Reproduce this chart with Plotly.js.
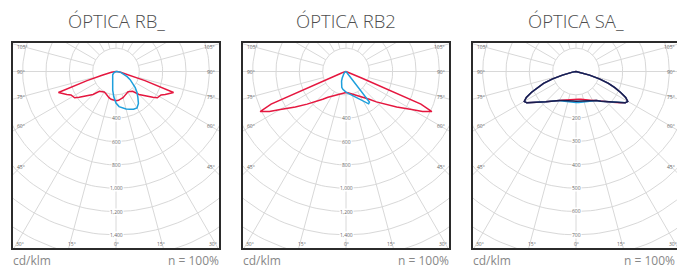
<!DOCTYPE html>
<html><head><meta charset="utf-8">
<script src="https://cdn.plot.ly/plotly-3.0.1.min.js"></script>
<style>html,body{margin:0;padding:0;background:#fff}#chart{width:677px;height:270px}</style>
</head><body><div id="chart"></div>
<script>
// ---------- DATA ----------
const panelTitles = ['ÓPTICA RB_', 'ÓPTICA RB2', 'ÓPTICA SA_'];
const unitLabel = 'cd/klm';
const effLabel = 'n = 100%';
const sideAngleLabels = ['105°', '90°', '75°', '60°', '45°'];
const bottomAngleLabels = ['30°', '15°', '0°', '15°', '30°'];
const rbIntensityLabels = [400, 600, 800, 1000, 1200, 1400];
const saIntensityLabels = [200, 300, 400, 500, 600, 700];

// gamma angles in degrees (0 = nadir, negative = left half)
const rbRedAngles = [-90,-85,-80,-75,-72.5,-70,-67.5,-65,-62.5,-60,-57.5,-55,-50,-45,-40,-35,-30,-25,-20,-15,-10,-5,0,5,10,15,20,25,30,35,40,45,50,55,57.5,60,62.5,65,67.5,70,72.5,75,80,85,90];
const rbRedValues = [0,8,40,130,260,525,495,465,435,428,420,385,325,278,222,208,203,208,220,232,242,248,250,248,242,232,220,208,203,208,222,278,325,385,420,428,435,465,495,525,260,130,40,8,0];

const rbBlueAngles = [-90,-75,-60,-45,-35,-30,-25,-20,-15,-10,-5,0,5,10,15,20,25,30,35,40,45,50,55,60,65,70,75,80,85,90];
const rbBlueValues = [0,10,22,40,50,57,68,83,110,163,218,270,302,318,332,345,356,360,335,292,255,215,175,140,105,78,60,42,20,0];

const rb2RedAngles = [-90,-85,-80,-75,-70,-67.5,-66.5,-65,-62.5,-60,-55,-50,-45,-40,-35,-30,-25,-20,-15,-10,-5,0,5,10,15,20,25,30,35,40,45,50,55,60,62.5,65,66.5,67.5,70,75,80,85,90];
const rb2RedValues = [0,4,10,22,50,150,700,812,740,650,530,435,368,310,270,245,225,212,200,190,183,180,183,190,200,212,225,245,270,310,368,435,530,650,740,812,700,150,50,22,10,4,0];

const rb2BlueAngles = [-90,-60,-45,-37.5,-30,-25,-20,-15,-10,-5,0,5,10,15,20,25,30,35,37.5,40,45,50,60,75,90];
const rb2BlueValues = [0,12,25,38,65,90,115,140,155,168,176,186,198,212,232,256,290,338,330,60,25,15,8,3,0];

const saAngles = [-90,-85,-80,-75,-72.5,-70,-67.5,-65,-62.5,-60,-57.5,-55,-50,-45,-40,-35,-30,-25,-20,-15,-10,-5,0,5,10,15,20,25,30,35,40,45,50,55,57.5,60,62.5,65,67.5,70,72.5,75,80,85,90];
const saNavyValues = [0,4,15,60,105,148,180,210,240,256,250,233,205,183,166,152,143,137,132,129,128,127,127,127,128,129,132,137,143,152,166,183,205,233,250,256,240,210,180,148,105,60,15,4,0];
const saRedValues  = [0,4,15,60,105,148,180,210,240,256,250,233,205,183,166,152,143,136,130,125,121,119,119,119,121,125,130,136,143,152,166,183,205,233,250,256,240,210,180,148,105,60,15,4,0];
const saBlueValues = [0,4,15,60,105,148,180,210,240,256,250,233,205,183,166,152,144,139,136,134,133,133,133,133,133,134,136,139,144,152,166,183,205,233,250,256,240,210,180,148,105,60,15,4,0];

// ---------- STYLE / LAYOUT ----------
const W = 677, H = 270;
const RED = '#e5173f', BLUE = '#1e9fdc', NAVY = '#1c1b4c', GRID = '#d8d8d8';
const CY = 71.5, TOP = 43, BOTTOM = 248;
const panels = [
  {cx: 116, left: 13, right: 219, scale: 0.1167, step: 200, labels: rbIntensityLabels,
   series: [[rbRedAngles, rbRedValues, RED], [rbBlueAngles, rbBlueValues, BLUE]]},
  {cx: 346, left: 243, right: 449, scale: 0.1167, step: 200, labels: rbIntensityLabels,
   series: [[rb2RedAngles, rb2RedValues, RED], [rb2BlueAngles, rb2BlueValues, BLUE]]},
  {cx: 576, left: 473, right: 679, scale: 0.2333, step: 100, labels: saIntensityLabels,
   series: [[saAngles, saRedValues, RED], [saAngles, saBlueValues, BLUE], [saAngles, saNavyValues, NAVY]]}
];
const sideLabelY = [47.3, 72, 96.5, 126, 166.5];
const bottomLabelDx = [-96.5, -44.5, 0, 45, 96.5];

const rad = d => d * Math.PI / 180;
const px = x => x / W, py = y => 1 - y / H;

const traces = [], annotations = [];
const layout = {
  width: W, height: H, margin: {l: 0, r: 0, t: 0, b: 0},
  paper_bgcolor: '#fff', plot_bgcolor: '#fff', showlegend: false,
  font: {family: 'Open Sans, sans-serif'}
};

panels.forEach((p, i) => {
  const n = i === 0 ? '' : String(i + 1);
  const xa = 'x' + n, ya = 'y' + n;
  const s = p.scale;
  const rightPx = Math.min(p.right, W);
  layout['xaxis' + n] = {
    domain: [px(p.left), px(rightPx)],
    range: [(p.left - p.cx) / s, (rightPx - p.cx) / s],
    showgrid: false, zeroline: false, showticklabels: false, ticks: '',
    showline: true, mirror: true, linecolor: '#2b2b2b', linewidth: 2, fixedrange: true,
    anchor: ya
  };
  layout['yaxis' + n] = {
    domain: [py(BOTTOM), py(TOP)],
    range: [-(BOTTOM - CY) / s, (CY - TOP) / s],
    showgrid: false, zeroline: false, showticklabels: false, ticks: '',
    showline: true, mirror: p.right <= W, linecolor: '#2b2b2b', linewidth: 2, fixedrange: true,
    anchor: xa
  };
  // grid rings
  const gx = [], gy = [];
  for (let k = 1; k <= 20; k++) {
    const r = k * p.step;
    for (let a = 0; a <= 360; a += 2) { gx.push(r * Math.sin(rad(a))); gy.push(-r * Math.cos(rad(a))); }
    gx.push(null); gy.push(null);
  }
  // spokes
  for (let a = 0; a < 360; a += 15) {
    gx.push(p.step * Math.sin(rad(a)), 20 * p.step * Math.sin(rad(a)), null);
    gy.push(-p.step * Math.cos(rad(a)), -20 * p.step * Math.cos(rad(a)), null);
  }
  traces.push({type: 'scatter', mode: 'lines', x: gx, y: gy, xaxis: xa, yaxis: ya,
    line: {color: GRID, width: 1}, hoverinfo: 'skip', connectgaps: false});
  // photometric curves
  p.series.forEach(([ang, val, col]) => {
    traces.push({type: 'scatter', mode: 'lines', xaxis: xa, yaxis: ya,
      x: ang.map((g, j) => val[j] * Math.sin(rad(g))),
      y: ang.map((g, j) => -val[j] * Math.cos(rad(g))),
      line: {color: col, width: 1.5}, hoverinfo: 'skip'});
  });
  // intensity labels on the nadir spoke
  p.labels.forEach(v => annotations.push({xref: xa, yref: ya, x: 0, y: -v,
    text: v.toLocaleString('en-US'), showarrow: false, bgcolor: '#fff', borderpad: 0,
    font: {size: 5, color: '#666'}}));
  // side angle labels
  sideAngleLabels.forEach((t, j) => {
    annotations.push({xref: 'paper', yref: 'paper', x: px(p.left + 2), y: py(sideLabelY[j]),
      xanchor: 'left', yanchor: 'middle', text: t, showarrow: false, font: {size: 5, color: '#666'}});
    annotations.push({xref: 'paper', yref: 'paper', x: px(p.right - 2), y: py(sideLabelY[j]),
      xanchor: 'right', yanchor: 'middle', text: t, showarrow: false, font: {size: 5, color: '#666'}});
  });
  bottomAngleLabels.forEach((t, j) => annotations.push({xref: 'paper', yref: 'paper',
    x: px(p.cx + bottomLabelDx[j]), y: py(244.3), xanchor: 'center', yanchor: 'middle',
    text: t, showarrow: false, font: {size: 5, color: '#666'}}));
  // title
  annotations.push({xref: 'paper', yref: 'paper', x: px(p.cx), y: py(21), xanchor: 'center', yanchor: 'middle',
    text: panelTitles[i], showarrow: false, font: {size: 18.5, color: '#4d4d4d', weight: 300}});
  // footer texts
  annotations.push({xref: 'paper', yref: 'paper', x: px(p.left - 1), y: 0, xanchor: 'left', yanchor: 'bottom',
    text: unitLabel, showarrow: false, borderpad: 0, font: {size: 12, color: '#888'}});
  annotations.push({xref: 'paper', yref: 'paper', x: px(Math.min(p.right + 1, W - 1)), y: 0, xanchor: 'right', yanchor: 'bottom',
    text: effLabel, showarrow: false, borderpad: 0, font: {size: 12, color: '#888'}});
});
layout.annotations = annotations;

Plotly.newPlot('chart', traces, layout, {staticPlot: true, displayModeBar: false});
</script>
</body></html>
